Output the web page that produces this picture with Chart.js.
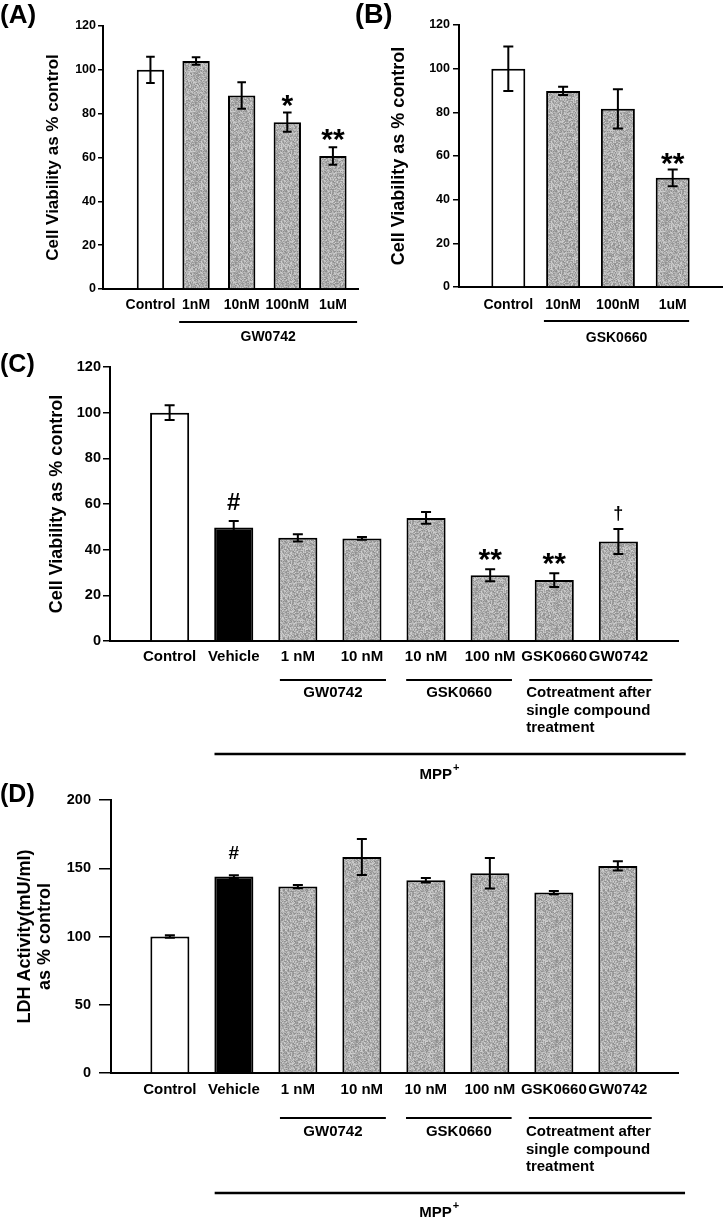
<!DOCTYPE html>
<html>
<head>
<meta charset="utf-8">
<script src="https://cdn.jsdelivr.net/npm/chart.js@4.4.1/dist/chart.umd.min.js"></script>
<style>
  body { margin: 0; background: #fff; width: 724px; height: 1220px; position: relative; overflow: hidden; }
  canvas { position: absolute; }
</style>
</head>
<body>
<canvas id="chartA" width="362" height="350" style="left:0;top:0"></canvas>
<canvas id="chartB" width="374" height="350" style="left:350px;top:0"></canvas>
<canvas id="chartC" width="724" height="452" style="left:0;top:330px"></canvas>
<canvas id="chartD" width="724" height="438" style="left:0;top:782px"></canvas>
<script>
// (A) GW0742 dose response
const labelsA = ['Control', '1nM', '10nM', '100nM', '1uM'];
const meanA = [100, 104, 88.3, 76.1, 60.7];
const errA = [6, 1.7, 6, 4.4, 4];
const marksA = ['', '', '', '*', '**'];
const groupsA = [{ label: 'GW0742', from: 1, to: 4 }];

// (B) GSK0660 dose response
const labelsB = ['Control', '10nM', '100nM', '1uM'];
const meanB = [100, 89.8, 81.6, 50];
const errB = [10.2, 1.9, 9, 3.8];
const marksB = ['', '', '', '**'];
const groupsB = [{ label: 'GSK0660', from: 1, to: 3 }];

// (C) viability with MPP+
const labelsC = ['Control', 'Vehicle', '1 nM', '10 nM', '10 nM', '100 nM', 'GSK0660', 'GW0742'];
const meanC = [100, 49.7, 45.2, 44.9, 53.9, 28.8, 26.7, 43.6];
const errC = [3.2, 2.9, 1.6, 0.6, 2.6, 2.6, 3, 5.5];
const marksC = ['', '#', '', '', '', '**', '**', '†'];

// (D) LDH activity with MPP+
const labelsD = ['Control', 'Vehicle', '1 nM', '10 nM', '10 nM', '100 nM', 'GSK0660', 'GW0742'];
const meanD = [100, 143.9, 136.6, 158.3, 141.2, 146.3, 132.2, 151.7];
const errD = [1, 1, 1.2, 13.2, 1.7, 11.2, 1.2, 3.4];
const marksD = ['', '#', '', '', '', '', '', ''];

const groupsCD = [
    { label: 'GW0742', from: 2, to: 3 },
    { label: 'GSK0660', from: 4, to: 5 },
    { label: 'Cotreatment after\nsingle compound\ntreatment', from: 6, to: 7 }
];
const outerCD = { label: 'MPP', sup: '+', from: 1, to: 7 };

const FONT = "'Liberation Sans', Arial, Helvetica, sans-serif";
Chart.defaults.font.family = FONT;
Chart.defaults.font.weight = 'bold';
Chart.defaults.color = '#000';

// grey stippled fill like the scanned bars
function speckle(ctx) {
    let tile = document.createElement('canvas');
    tile.width = tile.height = 40;
    let g = tile.getContext('2d');
    let img = g.createImageData(40, 40);
    let s = 2463534242;
    for (let i = 0; i < img.data.length; i += 4) {
        s ^= s << 13; s >>>= 0;
        s ^= s >>> 17;
        s ^= s << 5; s >>>= 0;
        let v = 140 + (s % 70);
        img.data[i] = img.data[i + 1] = img.data[i + 2] = v;
        img.data[i + 3] = 255;
    }
    g.putImageData(img, 0, 0);
    return ctx.createPattern(tile, 'repeat');
}

function extrasPlugin(cfg) {
    return {
        id: 'extras',
        afterDatasetsDraw(chart) {
            const { ctx, scales: { x, y } } = chart;
            ctx.save();
            ctx.strokeStyle = '#000';
            ctx.fillStyle = '#000';
            ctx.lineWidth = 2;
            cfg.means.forEach((m, i) => {
                let px = x.getPixelForValue(i);
                let top = y.getPixelForValue(m + cfg.errors[i]);
                let bot = y.getPixelForValue(m - cfg.errors[i]);
                ctx.beginPath();
                ctx.moveTo(px, top); ctx.lineTo(px, bot);
                ctx.moveTo(px - cfg.cap, top); ctx.lineTo(px + cfg.cap, top);
                ctx.moveTo(px - cfg.cap, bot); ctx.lineTo(px + cfg.cap, bot);
                ctx.stroke();
                let mark = cfg.marks[i];
                if (mark) {
                    let st = cfg.markStyle[mark[0]];
                    ctx.font = `bold ${st.size}px ${FONT}`;
                    ctx.textAlign = 'center';
                    ctx.textBaseline = 'alphabetic';
                    ctx.fillText(mark, px, top - st.lift);
                }
            });
            ctx.restore();
        },
        afterDraw(chart) {
            const { ctx, chartArea, scales: { x } } = chart;
            ctx.save();
            ctx.fillStyle = '#000';
            ctx.strokeStyle = '#000';
            ctx.font = `bold ${cfg.panelSize}px ${FONT}`;
            ctx.textAlign = 'left';
            ctx.textBaseline = 'alphabetic';
            ctx.fillText(cfg.panel, cfg.panelX, cfg.panelY);

            ctx.font = `bold ${cfg.groupSize}px ${FONT}`;
            ctx.textBaseline = 'middle';
            cfg.groups.forEach((g, k) => {
                let [l, r] = cfg.groupExt[k];
                let x0 = x.getPixelForValue(g.from - l);
                let x1 = x.getPixelForValue(g.to + r);
                let ly = chartArea.bottom + cfg.groupLine;
                ctx.lineWidth = 2;
                ctx.beginPath(); ctx.moveTo(x0, ly); ctx.lineTo(x1, ly); ctx.stroke();
                let lines = g.label.split('\n');
                lines.forEach((t, j) => {
                    let ty = chartArea.bottom + cfg.groupText + j * cfg.groupLead;
                    if (lines.length > 1) {
                        ctx.textAlign = 'left';
                        ctx.fillText(t, x0 - 3, ty);
                    } else {
                        ctx.textAlign = 'center';
                        ctx.fillText(t, (x0 + x1) / 2, ty);
                    }
                });
            });

            if (cfg.outer) {
                let o = cfg.outer;
                let x0 = x.getPixelForValue(o.from - cfg.outerExt[0]);
                let x1 = x.getPixelForValue(o.to + cfg.outerExt[1]);
                let ly = chartArea.bottom + cfg.outerLine;
                ctx.lineWidth = 2.5;
                ctx.beginPath(); ctx.moveTo(x0, ly); ctx.lineTo(x1, ly); ctx.stroke();
                let cx = x.getPixelForValue(cfg.outerTextAt);
                let ty = chartArea.bottom + cfg.outerText;
                ctx.textAlign = 'center';
                ctx.fillText(o.label, cx, ty);
                let w = ctx.measureText(o.label).width;
                ctx.font = `bold 11px ${FONT}`;
                ctx.textAlign = 'left';
                ctx.fillText(o.sup, cx + w / 2 + 1, ty - 7);
            }
            ctx.restore();
        }
    };
}

function makeChart(id, cfg) {
    let ctx = document.getElementById(id).getContext('2d');
    let gray = speckle(ctx);
    return new Chart(ctx, {
        type: 'bar',
        data: {
            datasets: [{
                data: cfg.labels.map((_, i) => ({ x: i, y: cfg.means[i] })),
                backgroundColor: cfg.labels.map(l => l === 'Control' ? '#ffffff' : l === 'Vehicle' ? '#000000' : gray),
                borderColor: '#000',
                borderWidth: 2,
                barPercentage: cfg.barPct,
                categoryPercentage: 1
            }]
        },
        options: {
            responsive: false,
            animation: false,
            layout: { padding: cfg.padding },
            plugins: { legend: { display: false }, tooltip: { enabled: false } },
            scales: {
                x: {
                    type: 'linear',
                    offset: false,
                    min: cfg.xMin,
                    max: cfg.xMax,
                    afterBuildTicks: s => { s.ticks = cfg.labels.map((_, i) => ({ value: i })); },
                    afterFit: s => { s.height = cfg.xHeight; },
                    ticks: {
                        callback: v => cfg.labels[v],
                        autoSkip: false,
                        maxRotation: 0,
                        minRotation: 0,
                        padding: cfg.labelPad,
                        font: { size: cfg.labelSize, weight: 'bold' },
                        color: '#000'
                    },
                    grid: { display: false, drawTicks: false, offset: false },
                    border: { display: true, color: '#000', width: 2 }
                },
                y: {
                    min: 0,
                    max: cfg.yMax,
                    afterFit: s => { s.width = cfg.yWidth; },
                    ticks: {
                        stepSize: cfg.yStep,
                        padding: cfg.tickPad,
                        font: { size: cfg.tickSize, weight: 'bold' },
                        color: '#000'
                    },
                    grid: { drawOnChartArea: false, tickLength: cfg.tickLen, color: '#000', lineWidth: 1.5 },
                    border: { display: true, color: '#000', width: 2 },
                    title: {
                        display: true,
                        text: cfg.yTitle,
                        color: '#000',
                        font: { size: cfg.titleSize, weight: 'bold', lineHeight: cfg.titleLead || 1.2 },
                        padding: { top: cfg.titlePad, bottom: 0 }
                    }
                }
            }
        },
        plugins: [extrasPlugin(cfg)]
    });
}

makeChart('chartA', {
    labels: labelsA, means: meanA, errors: errA, marks: marksA, groups: groupsA,
    padding: { left: 0, right: 4, top: 26, bottom: 0 },
    yWidth: 103, xHeight: 61, xMin: -1.04, xMax: 4.55, barPct: 0.6,
    yMax: 120, yStep: 20, tickSize: 12.5, tickPad: 2, tickLen: 5,
    yTitle: 'Cell Viability as % control', titleSize: 17, titlePad: 43,
    labelSize: 14, labelPad: 8, cap: 4.3,
    markStyle: { '*': { size: 30, lift: -2 } },
    panel: '(A)', panelX: 0, panelY: 23, panelSize: 26,
    groupSize: 14, groupLine: 33, groupText: 48, groupLead: 17, groupExt: [[0.37, 0.53]]
});

makeChart('chartB', {
    labels: labelsB, means: meanB, errors: errB, marks: marksB, groups: groupsB,
    padding: { left: 0, right: 2, top: 25, bottom: 0 },
    yWidth: 109, xHeight: 63, xMin: -0.9, xMax: 3.9, barPct: 0.62,
    yMax: 120, yStep: 20, tickSize: 12.5, tickPad: 3, tickLen: 6,
    yTitle: 'Cell Viability as % control', titleSize: 18, titlePad: 38,
    labelSize: 14, labelPad: 10, cap: 5,
    markStyle: { '*': { size: 30, lift: -3 } },
    panel: '(B)', panelX: 5, panelY: 23, panelSize: 27,
    groupSize: 14, groupLine: 34, groupText: 51, groupLead: 17, groupExt: [[0.35, 0.3]]
});

makeChart('chartC', {
    labels: labelsC, means: meanC, errors: errC, marks: marksC, groups: groupsCD,
    padding: { left: 0, right: 46, top: 37, bottom: 0 },
    yWidth: 110, xHeight: 141, xMin: -0.93, xMax: 7.93, barPct: 0.61,
    yMax: 120, yStep: 20, tickSize: 14.5, tickPad: 2, tickLen: 7,
    yTitle: 'Cell Viability as % control', titleSize: 18, titlePad: 46,
    labelSize: 15, labelPad: 7, cap: 5,
    markStyle: { '*': { size: 30, lift: 0 }, '#': { size: 24, lift: 11 }, '†': { size: 18, lift: 10 } },
    panel: '(C)', panelX: 0, panelY: 42, panelSize: 25,
    groupSize: 15, groupLine: 39, groupText: 52, groupLead: 17.5,
    groupExt: [[0.28, 0.375], [0.31, 0.34], [0.39, 0.53]],
    outer: outerCD, outerExt: [0.3, 1.05], outerLine: 113, outerText: 134, outerTextAt: 4.15
});

makeChart('chartD', {
    labels: labelsD, means: meanD, errors: errD, marks: marksD, groups: groupsCD,
    padding: { left: 0, right: 46, top: 18, bottom: 0 },
    yWidth: 111, xHeight: 147, xMin: -0.92, xMax: 7.94, barPct: 0.61,
    yMax: 200, yStep: 50, tickSize: 14.5, tickPad: 8, tickLen: 12,
    yTitle: ['LDH Activity(mU/ml)', 'as % control'], titleSize: 18, titleLead: 20 / 18, titlePad: 15,
    labelSize: 15, labelPad: 8, cap: 5,
    markStyle: { '#': { size: 19, lift: 16 } },
    panel: '(D)', panelX: 0, panelY: 20, panelSize: 25,
    groupSize: 15, groupLine: 45, groupText: 59, groupLead: 17.5,
    groupExt: [[0.28, 0.375], [0.31, 0.34], [0.39, 0.53]],
    outer: outerCD, outerExt: [0.3, 1.05], outerLine: 120, outerText: 140, outerTextAt: 4.15
});
</script>
</body>
</html>
